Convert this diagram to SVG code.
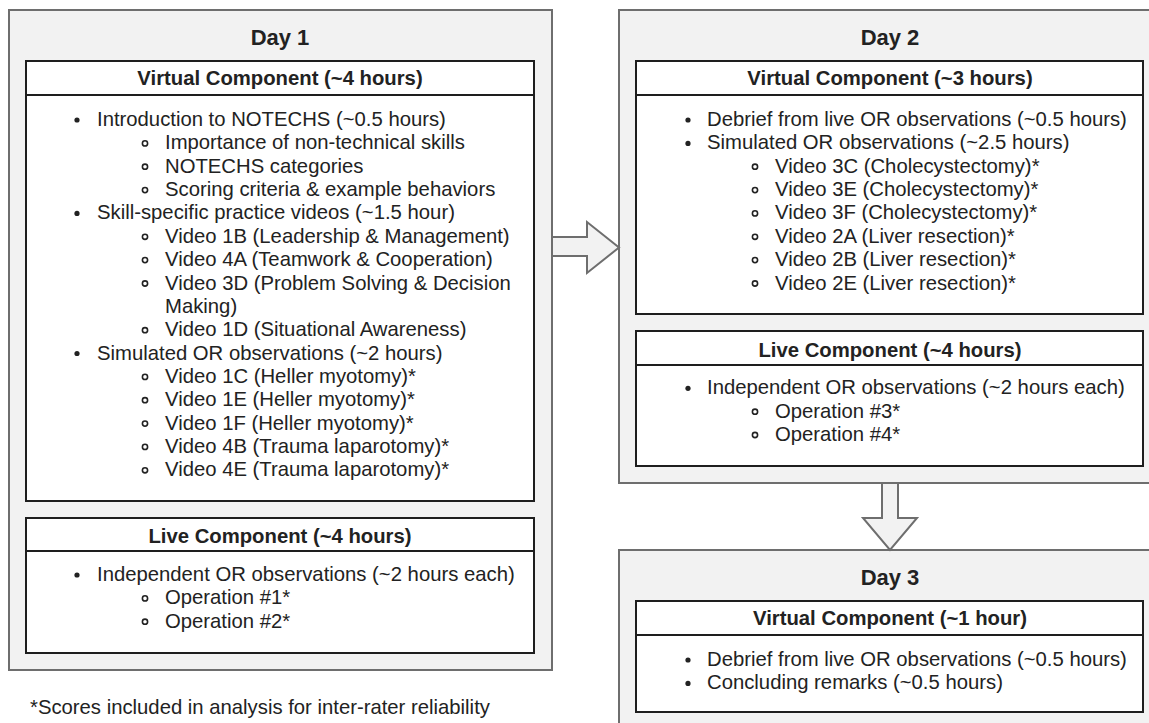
<svg xmlns="http://www.w3.org/2000/svg" width="1149" height="723" viewBox="0 0 1149 723">
<style>
.day{fill:#f2f2f2;stroke:#6e6e6e;stroke-width:2}
.box{fill:#ffffff;stroke:#1e1e1e;stroke-width:2}
.hl{stroke:#1e1e1e;stroke-width:2}
text{font-family:"Liberation Sans",Arial,sans-serif;fill:#222}
.title{font-size:22px;font-weight:bold;text-anchor:middle}
.hdr{font-size:20.3px;font-weight:bold;text-anchor:middle}
.t{font-size:20.3px}
.b1{fill:#222}
.b2{fill:none;stroke:#222;stroke-width:1.6}
.arr{fill:#f2f2f2;stroke:#6e6e6e;stroke-width:2;stroke-linejoin:miter}
</style>
<rect width="1149" height="723" fill="#ffffff"/>

<g id="day1">
<rect class="day" x="9" y="10" width="543" height="660"/>
<text class="title" x="280" y="45">Day 1</text>
<g id="day1-virtual">
<rect class="box" x="26" y="61" width="508" height="440"/>
<line class="hl" x1="26" y1="95" x2="534" y2="95"/>
<text class="hdr" x="280" y="85">Virtual Component (~4 hours)</text>
<circle class="b1" cx="77" cy="120" r="2.6"/>
<text class="t" x="97" y="126">Introduction to NOTECHS (~0.5 hours)</text>
<circle class="b2" cx="145" cy="143.4" r="2.6"/>
<text class="t" x="165" y="149.4">Importance of non-technical skills</text>
<circle class="b2" cx="145" cy="166.7" r="2.6"/>
<text class="t" x="165" y="172.7">NOTECHS categories</text>
<circle class="b2" cx="145" cy="190.1" r="2.6"/>
<text class="t" x="165" y="196.1">Scoring criteria &amp; example behaviors</text>
<circle class="b1" cx="77" cy="213.4" r="2.6"/>
<text class="t" x="97" y="219.4">Skill-specific practice videos (~1.5 hour)</text>
<circle class="b2" cx="145" cy="236.8" r="2.6"/>
<text class="t" x="165" y="242.8">Video 1B (Leadership &amp; Management)</text>
<circle class="b2" cx="145" cy="260.1" r="2.6"/>
<text class="t" x="165" y="266.1">Video 4A (Teamwork &amp; Cooperation)</text>
<circle class="b2" cx="145" cy="283.5" r="2.6"/>
<text class="t" x="165" y="289.5">Video 3D (Problem Solving &amp; Decision</text>
<text class="t" x="165" y="312.8">Making)</text>
<circle class="b2" cx="145" cy="330.2" r="2.6"/>
<text class="t" x="165" y="336.2">Video 1D (Situational Awareness)</text>
<circle class="b1" cx="77" cy="353.5" r="2.6"/>
<text class="t" x="97" y="359.5">Simulated OR observations (~2 hours)</text>
<circle class="b2" cx="145" cy="376.9" r="2.6"/>
<text class="t" x="165" y="382.9">Video 1C (Heller myotomy)*</text>
<circle class="b2" cx="145" cy="400.2" r="2.6"/>
<text class="t" x="165" y="406.2">Video 1E (Heller myotomy)*</text>
<circle class="b2" cx="145" cy="423.6" r="2.6"/>
<text class="t" x="165" y="429.6">Video 1F (Heller myotomy)*</text>
<circle class="b2" cx="145" cy="446.9" r="2.6"/>
<text class="t" x="165" y="452.9">Video 4B (Trauma laparotomy)*</text>
<circle class="b2" cx="145" cy="470.3" r="2.6"/>
<text class="t" x="165" y="476.3">Video 4E (Trauma laparotomy)*</text>
</g>
<g id="day1-live">
<rect class="box" x="26" y="518" width="508" height="135"/>
<line class="hl" x1="26" y1="551" x2="534" y2="551"/>
<text class="hdr" x="280" y="543">Live Component (~4 hours)</text>
<circle class="b1" cx="77" cy="575" r="2.6"/>
<text class="t" x="97" y="581">Independent OR observations (~2 hours each)</text>
<circle class="b2" cx="145" cy="598.4" r="2.6"/>
<text class="t" x="165" y="604.4">Operation #1*</text>
<circle class="b2" cx="145" cy="621.7" r="2.6"/>
<text class="t" x="165" y="627.7">Operation #2*</text>
</g>
</g>

<g id="day2">
<rect class="day" x="619" y="10" width="545" height="473"/>
<text class="title" x="890" y="45">Day 2</text>
<g id="day2-virtual">
<rect class="box" x="636" y="61" width="507" height="253"/>
<line class="hl" x1="636" y1="95" x2="1143" y2="95"/>
<text class="hdr" x="890" y="85">Virtual Component (~3 hours)</text>
<circle class="b1" cx="688" cy="120" r="2.6"/>
<text class="t" x="707" y="126">Debrief from live OR observations (~0.5 hours)</text>
<circle class="b1" cx="688" cy="143.4" r="2.6"/>
<text class="t" x="707" y="149.4">Simulated OR observations (~2.5 hours)</text>
<circle class="b2" cx="755" cy="166.7" r="2.6"/>
<text class="t" x="775" y="172.7">Video 3C (Cholecystectomy)*</text>
<circle class="b2" cx="755" cy="190.1" r="2.6"/>
<text class="t" x="775" y="196.1">Video 3E (Cholecystectomy)*</text>
<circle class="b2" cx="755" cy="213.4" r="2.6"/>
<text class="t" x="775" y="219.4">Video 3F (Cholecystectomy)*</text>
<circle class="b2" cx="755" cy="236.8" r="2.6"/>
<text class="t" x="775" y="242.8">Video 2A (Liver resection)*</text>
<circle class="b2" cx="755" cy="260.1" r="2.6"/>
<text class="t" x="775" y="266.1">Video 2B (Liver resection)*</text>
<circle class="b2" cx="755" cy="283.5" r="2.6"/>
<text class="t" x="775" y="289.5">Video 2E (Liver resection)*</text>
</g>
<g id="day2-live">
<rect class="box" x="636" y="331" width="507" height="135"/>
<line class="hl" x1="636" y1="365" x2="1143" y2="365"/>
<text class="hdr" x="890" y="356.5">Live Component (~4 hours)</text>
<circle class="b1" cx="688" cy="388.3" r="2.6"/>
<text class="t" x="707" y="394.3">Independent OR observations (~2 hours each)</text>
<circle class="b2" cx="755" cy="411.7" r="2.6"/>
<text class="t" x="775" y="417.7">Operation #3*</text>
<circle class="b2" cx="755" cy="435" r="2.6"/>
<text class="t" x="775" y="441">Operation #4*</text>
</g>
</g>

<g id="day3">
<rect class="day" x="619" y="550" width="545" height="190"/>
<text class="title" x="890" y="585">Day 3</text>
<g id="day3-virtual">
<rect class="box" x="636" y="601" width="507" height="111"/>
<line class="hl" x1="636" y1="635" x2="1143" y2="635"/>
<text class="hdr" x="890" y="625">Virtual Component (~1 hour)</text>
<circle class="b1" cx="688" cy="660" r="2.6"/>
<text class="t" x="707" y="666">Debrief from live OR observations (~0.5 hours)</text>
<circle class="b1" cx="688" cy="683.4" r="2.6"/>
<text class="t" x="707" y="689.4">Concluding remarks (~0.5 hours)</text>
</g>
</g>

<g id="connectors">
<polygon class="arr" points="552,237 587,237 587,222 619,247.5 587,273 587,256 552,256"/>
<polygon class="arr" points="882,483 898,483 898,518 917,518 890,550 863,518 882,518"/>
</g>

<g id="footnote">
<text class="t" x="30" y="714">*Scores included in analysis for inter-rater reliability</text>
</g>
</svg>
